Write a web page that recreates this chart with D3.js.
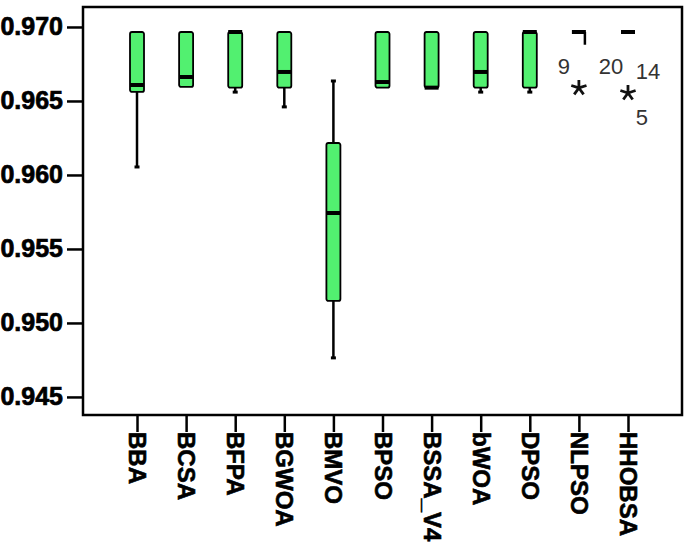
<!DOCTYPE html>
<html>
<head>
<meta charset="utf-8">
<script src="https://cdn.jsdelivr.net/npm/d3@7"></script>
<style>
  html, body { margin: 0; padding: 0; background: #fff; }
  svg { display: block; }
</style>
</head>
<body>
<div id="chart"></div>
<script>
// data
const categories = ["BBA", "BCSA", "BFPA", "BGWOA", "BMVO", "BPSO", "BSSA_V4", "bWOA", "DPSO", "NLPSO", "HHOBSA"];
const whiskerLow  = [0.96054, 0.96595, 0.96560, 0.96460, 0.94764, 0.96590, 0.96590, 0.96560, 0.96560, 0.96966, 0.96966];
const q1Values    = [0.96561, 0.96595, 0.96590, 0.96590, 0.95149, 0.96590, 0.96590, 0.96590, 0.96590, 0.96966, 0.96966];
const medians     = [0.96608, 0.96662, 0.96966, 0.96696, 0.95743, 0.96628, 0.96590, 0.96696, 0.96966, 0.96966, 0.96966];
const q3Values    = [0.96966, 0.96966, 0.96966, 0.96966, 0.96216, 0.96966, 0.96966, 0.96966, 0.96966, 0.96966, 0.96966];
const whiskerHigh = [0.96966, 0.96966, 0.96966, 0.96966, 0.96635, 0.96966, 0.96966, 0.96966, 0.96966, 0.96966, 0.96966];
const outliers = [
  { cat: "NLPSO", value: 0.96588, labels: [{ text: "9", dx: -15, dy: -22 }, { text: "20", dx: 32, dy: -22 }] },
  { cat: "HHOBSA", value: 0.96554, labels: [{ text: "14", dx: 20, dy: -22 }, { text: "5", dx: 14, dy: 24 }] }
];
// the little hook next to the collapsed NLPSO box
const nlpsoHook = { cat: "NLPSO", from: 0.96966, to: 0.96880 };
const yTicks = [0.945, 0.950, 0.955, 0.960, 0.965, 0.970];

const data = categories.map((c, i) => ({
  name: c, lo: whiskerLow[i], q1: q1Values[i], med: medians[i], q3: q3Values[i], hi: whiskerHigh[i]
}));

const W = 685, H = 552;
const margin = { top: 7, right: 3, bottom: 137, left: 83 };
const width = W - margin.left - margin.right;
const height = H - margin.top - margin.bottom;

const svg = d3.select("#chart").append("svg")
  .attr("width", W).attr("height", H)
  .append("g")
  .attr("transform", `translate(${margin.left},${margin.top})`);

const x = d3.scalePoint().domain(categories).range([0, width]).padding(1.1);
const y = d3.scaleLinear().domain([0.94378, 0.97135]).range([height, 0]);

const boxW = 14;
const green = "#52f070";
const font = "'Liberation Sans', Arial, sans-serif";

// y axis
const yAxis = svg.append("g")
  .call(d3.axisLeft(y).tickValues(yTicks).tickFormat(d3.format(".3f")).tickSize(16).tickPadding(4));
yAxis.select(".domain").remove();
yAxis.selectAll("line").attr("stroke", "#000").attr("stroke-width", 2.5);
yAxis.selectAll("text")
  .attr("fill", "#000")
  .attr("stroke", "#000")
  .attr("stroke-width", 0.7)
  .style("font-family", font)
  .style("font-size", "25px")
  .style("font-weight", "bold");

// x axis
const xAxis = svg.append("g")
  .attr("transform", `translate(0,${height})`)
  .call(d3.axisBottom(x).tickSize(17).tickPadding(0));
xAxis.select(".domain").remove();
xAxis.selectAll("line").attr("stroke", "#000").attr("stroke-width", 2.5);
xAxis.selectAll("text")
  .attr("fill", "#000")
  .attr("stroke", "#000")
  .attr("stroke-width", 0.6)
  .attr("transform", "rotate(90)")
  .attr("x", 17)
  .attr("y", 0)
  .attr("dy", "0.35em")
  .style("text-anchor", "start")
  .style("font-family", font)
  .style("font-size", "24px")
  .style("font-weight", "bold");

// frame
svg.append("rect")
  .attr("x", 0).attr("y", 0)
  .attr("width", width).attr("height", height)
  .attr("fill", "none")
  .attr("stroke", "#000")
  .attr("stroke-width", 2.5);

const boxes = svg.selectAll(".box")
  .data(data)
  .enter()
  .append("g")
  .attr("class", "box")
  .attr("transform", d => `translate(${x(d.name)},0)`);

// whiskers
boxes.filter(d => d.lo < d.q1).append("line")
  .attr("x1", 0).attr("x2", 0)
  .attr("y1", d => y(d.q1)).attr("y2", d => y(d.lo))
  .attr("stroke", "#000").attr("stroke-width", 2.5);
boxes.filter(d => d.lo < d.q1).append("line")
  .attr("x1", -2.5).attr("x2", 2.5)
  .attr("y1", d => y(d.lo)).attr("y2", d => y(d.lo))
  .attr("stroke", "#000").attr("stroke-width", 3);
boxes.filter(d => d.hi > d.q3).append("line")
  .attr("x1", 0).attr("x2", 0)
  .attr("y1", d => y(d.q3)).attr("y2", d => y(d.hi))
  .attr("stroke", "#000").attr("stroke-width", 2.5);
boxes.filter(d => d.hi > d.q3).append("line")
  .attr("x1", -2.5).attr("x2", 2.5)
  .attr("y1", d => y(d.hi)).attr("y2", d => y(d.hi))
  .attr("stroke", "#000").attr("stroke-width", 3);

// boxes
boxes.filter(d => d.q3 > d.q1).append("rect")
  .attr("x", -boxW / 2)
  .attr("y", d => y(d.q3))
  .attr("width", boxW)
  .attr("height", d => y(d.q1) - y(d.q3))
  .attr("rx", 2)
  .attr("fill", green)
  .attr("stroke", "#000")
  .attr("stroke-width", 1.8);

// medians (collapsed boxes show as a thick bar)
boxes.append("line")
  .attr("x1", -boxW / 2).attr("x2", boxW / 2)
  .attr("y1", d => y(d.med)).attr("y2", d => y(d.med))
  .attr("stroke", "#000")
  .attr("stroke-width", 4);

// NLPSO hook
svg.append("line")
  .attr("x1", x(nlpsoHook.cat) + boxW / 2 - 1)
  .attr("x2", x(nlpsoHook.cat) + boxW / 2 - 1)
  .attr("y1", y(nlpsoHook.from))
  .attr("y2", y(nlpsoHook.to))
  .attr("stroke", "#000").attr("stroke-width", 2.5);

// five-armed asterisk like the SPSS extreme marker
const asterisk = {
  draw(ctx, size) {
    const r = Math.sqrt(size) / 2;
    for (let k = 0; k < 5; k++) {
      const a = -Math.PI / 2 + k * 2 * Math.PI / 5;
      ctx.moveTo(0, 0);
      ctx.lineTo(r * Math.cos(a), r * Math.sin(a));
    }
  }
};

// extreme outliers
const out = svg.selectAll(".outlier")
  .data(outliers)
  .enter()
  .append("g")
  .attr("class", "outlier")
  .attr("transform", d => `translate(${x(d.cat)},${y(d.value)})`);

out.append("path")
  .attr("d", d3.symbol().type(asterisk).size(256))
  .attr("fill", "none")
  .attr("stroke", "#111")
  .attr("stroke-width", 2.8);

out.selectAll("text")
  .data(d => d.labels)
  .enter()
  .append("text")
  .attr("x", d => d.dx)
  .attr("y", d => d.dy)
  .attr("dy", "0.35em")
  .attr("text-anchor", "middle")
  .attr("fill", "#333")
  .style("font-family", font)
  .style("font-size", "22px")
  .text(d => d.text);
</script>
</body>
</html>
